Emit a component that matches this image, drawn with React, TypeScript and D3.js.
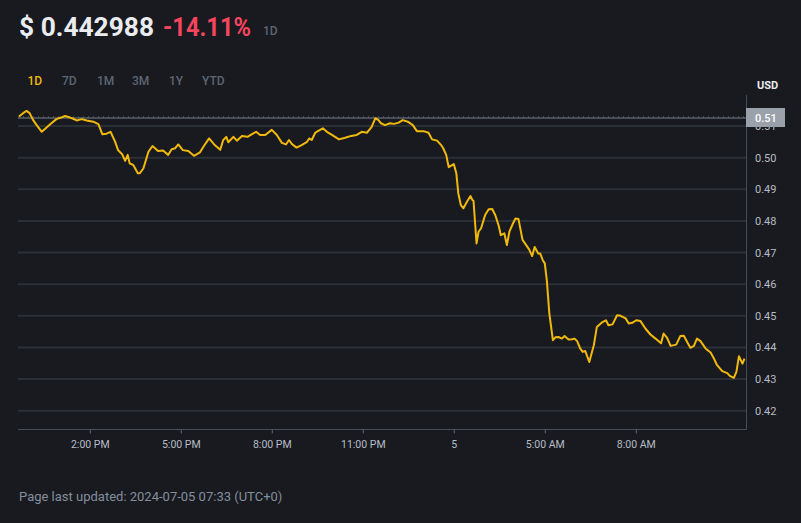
import React from "react"
import * as d3 from "d3"

// minutes since 00:00 on Jul 4 (chart local time)
const times = [
  699, 707, 714, 720, 727, 734, 744, 753, 763, 773, 782, 790, 800, 805, 813, 823, 833, 846, 856, 864,
  872, 880, 889, 895, 903, 909, 914, 918, 925, 934, 938, 945, 955, 963, 974, 984, 994, 1001, 1008, 1014,
  1023, 1034, 1045, 1057, 1065, 1075, 1085, 1097, 1103, 1109, 1113, 1123, 1130, 1140, 1151, 1159, 1168, 1176, 1186, 1199,
  1209, 1219, 1227, 1233, 1239, 1248, 1258, 1268, 1273, 1278, 1285, 1291, 1300, 1308, 1318, 1332, 1344, 1356, 1367, 1377,
  1387, 1396, 1404, 1410, 1415, 1423, 1433, 1441, 1450, 1458, 1468, 1478, 1486, 1499, 1509, 1516, 1526, 1534, 1538, 1544,
  1549, 1559, 1564, 1568, 1573, 1578, 1585, 1592, 1596, 1598, 1604, 1608, 1613, 1621, 1628, 1635, 1641, 1648, 1652, 1659,
  1664, 1669, 1676, 1681, 1687, 1695, 1708, 1714, 1719, 1726, 1730, 1735, 1739, 1743, 1748, 1755, 1760, 1766, 1773, 1778,
  1786, 1793, 1798, 1803, 1809, 1814, 1819, 1827, 1836, 1842, 1852, 1860, 1865, 1873, 1882, 1889, 1899, 1905, 1912, 1920,
  1928, 1938, 1948, 1958, 1969, 1974, 1981, 1988, 1999, 2007, 2014, 2022, 2027, 2034, 2040, 2047, 2057, 2067, 2073, 2079,
  2090, 2100, 2105, 2113, 2118, 2123, 2130, 2134,
]

const prices = [
  0.5130, 0.5141, 0.5148, 0.5141, 0.5119, 0.5103, 0.5082, 0.5095, 0.5109, 0.5122, 0.5127, 0.5132, 0.5127, 0.5124, 0.5118, 0.5122, 0.5118, 0.5114, 0.5106, 0.5074,
  0.5076, 0.5082, 0.5051, 0.5024, 0.5011, 0.4990, 0.5009, 0.4982, 0.4977, 0.4951, 0.4951, 0.4966, 0.5019, 0.5037, 0.5021, 0.5023, 0.5009, 0.5027, 0.5030, 0.5042,
  0.5024, 0.5021, 0.5006, 0.5017, 0.5038, 0.5061, 0.5042, 0.5025, 0.5056, 0.5066, 0.5049, 0.5066, 0.5054, 0.5069, 0.5066, 0.5074, 0.5082, 0.5072, 0.5072, 0.5088,
  0.5072, 0.5047, 0.5042, 0.5056, 0.5043, 0.5032, 0.5040, 0.5049, 0.5061, 0.5056, 0.5079, 0.5085, 0.5093, 0.5082, 0.5072, 0.5058, 0.5063, 0.5069, 0.5072, 0.5082,
  0.5079, 0.5096, 0.5125, 0.5119, 0.5109, 0.5103, 0.5109, 0.5107, 0.5111, 0.5119, 0.5114, 0.5103, 0.5084, 0.5084, 0.5079, 0.5058, 0.5054, 0.5040, 0.5030, 0.5009,
  0.4970, 0.4980, 0.4951, 0.4887, 0.4850, 0.4840, 0.4861, 0.4879, 0.4866, 0.4864, 0.4729, 0.4766, 0.4777, 0.4819, 0.4837, 0.4838, 0.4819, 0.4784, 0.4755, 0.4761,
  0.4724, 0.4766, 0.4792, 0.4808, 0.4806, 0.4740, 0.4710, 0.4689, 0.4718, 0.4697, 0.4697, 0.4676, 0.4666, 0.4613, 0.4508, 0.4423, 0.4432, 0.4433, 0.4428, 0.4436,
  0.4425, 0.4426, 0.4428, 0.4420, 0.4397, 0.4386, 0.4389, 0.4354, 0.4407, 0.4465, 0.4479, 0.4486, 0.4470, 0.4473, 0.4502, 0.4500, 0.4492, 0.4476, 0.4478, 0.4486,
  0.4484, 0.4460, 0.4441, 0.4428, 0.4413, 0.4444, 0.4430, 0.4405, 0.4409, 0.4436, 0.4437, 0.4413, 0.4399, 0.4405, 0.4428, 0.4420, 0.4397, 0.4384, 0.4367, 0.4346,
  0.4325, 0.4319, 0.4310, 0.4304, 0.4323, 0.4372, 0.4349, 0.4365, 0.4367,
]

const openPrice = 0.51256
const priceTicks = [0.42, 0.43, 0.44, 0.45, 0.46, 0.47, 0.48, 0.49, 0.5, 0.51]
const timeTicks = [840, 1020, 1200, 1380, 1560, 1740, 1920]
const timeLabels = ["2:00 PM", "5:00 PM", "8:00 PM", "11:00 PM", "5", "5:00 AM", "8:00 AM"]
const ranges = ["1D", "7D", "1M", "3M", "1Y", "YTD"]

const W = 801
const H = 523
const font = "Roboto, 'Noto Sans', sans-serif"

export default function App() {
  const left = 18
  const right = 746.5
  const top = 95
  const bottom = 429.5

  const x = d3.scaleLinear().domain([697, 2138]).range([left, right])
  const y = d3.scaleLinear().domain([0.42, 0.51]).range([410.7, 126.1])

  const data = times.map((t, i) => ({ t, p: prices[i] }))
  const line = d3
    .line<{ t: number; p: number }>()
    .x((d) => x(d.t))
    .y((d) => y(d.p))

  React.useEffect(() => {
    document.body.style.margin = "0"
    document.body.style.background = "#181a20"
  }, [])

  const tabX = [27.5, 62, 97, 132, 169, 202]

  return (
    <svg width={W} height={H} style={{ display: "block", background: "#181a20", fontFamily: font }}>
      <rect width={W} height={H} fill="#181a20" />
      <defs>
        <clipPath id="belowTag">
          <rect x={746} y={y(openPrice) + 9} width={55} height={20} />
        </clipPath>
      </defs>
      {/* header */}
      <text x={19} y={35.5} fill="#eaecef" fontSize={26} fontWeight={700} textLength={135} lengthAdjust="spacingAndGlyphs">
        $ 0.442988
      </text>
      <text x={163} y={35.5} fill="#f6465d" fontSize={26} fontWeight={700} textLength={88} lengthAdjust="spacingAndGlyphs">
        -14.11%
      </text>
      <text x={263} y={35} fill="#5e6673" fontSize={12} fontWeight={500}>
        1D
      </text>
      {ranges.map((r, i) => (
        <text
          key={r}
          x={tabX[i]}
          y={84.5}
          fill={i === 0 ? "#f0b90b" : "#5e6673"}
          fontSize={12}
          fontWeight={500}
        >
          {r}
        </text>
      ))}

      {/* grid */}
      {priceTicks.map((v) => (
        <line key={v} x1={left} x2={right} y1={y(v)} y2={y(v)} stroke="#2b2f36" strokeWidth={2} />
      ))}

      {/* open price line */}
      <line x1={left} x2={right} y1={y(openPrice)} y2={y(openPrice)} stroke="#474d57" strokeWidth={2} />
      <line
        x1={left}
        x2={right}
        y1={y(openPrice) - 1}
        y2={y(openPrice) - 1}
        stroke="#6a707a"
        strokeWidth={1}
        strokeDasharray="1 4"
      />

      {/* price line */}
      <path d={line(data) || ""} fill="none" stroke="#f0b90b" strokeWidth={2} strokeLinejoin="round" />

      {/* right axis */}
      <line x1={right} x2={right} y1={top} y2={bottom} stroke="#474d57" strokeWidth={1} />
      <text x={757} y={89} fill="#eaecef" fontSize={11} fontWeight={700}>
        USD
      </text>
      {priceTicks.map((v) => (
        <text
          key={v}
          x={755}
          y={y(v) + 4}
          fill="#b7bdc6"
          fontSize={11}
          clipPath={v === 0.51 ? "url(#belowTag)" : undefined}
        >
          {v.toFixed(2)}
        </text>
      ))}
      <rect x={746} y={y(openPrice) - 10} width={39} height={19} fill="#9aa1ab" />
      <text x={755} y={y(openPrice) + 4} fill="#ffffff" fontSize={11} fontWeight={500}>
        {openPrice.toFixed(2)}
      </text>

      {/* bottom axis */}
      <line x1={left} x2={right} y1={bottom} y2={bottom} stroke="#474d57" strokeWidth={1} />
      {timeTicks.map((t, i) => (
        <g key={t} transform={`translate(${x(t)},${bottom})`}>
          <line y1={0} y2={4} stroke="#5e6673" />
          <text y={18} textAnchor="middle" fill="#b7bdc6" fontSize={10.5}>
            {timeLabels[i]}
          </text>
        </g>
      ))}

      <text x={19} y={501} fill="#848e9c" fontSize={13}>
        Page last updated: 2024-07-05 07:33 (UTC+0)
      </text>
    </svg>
  )
}
